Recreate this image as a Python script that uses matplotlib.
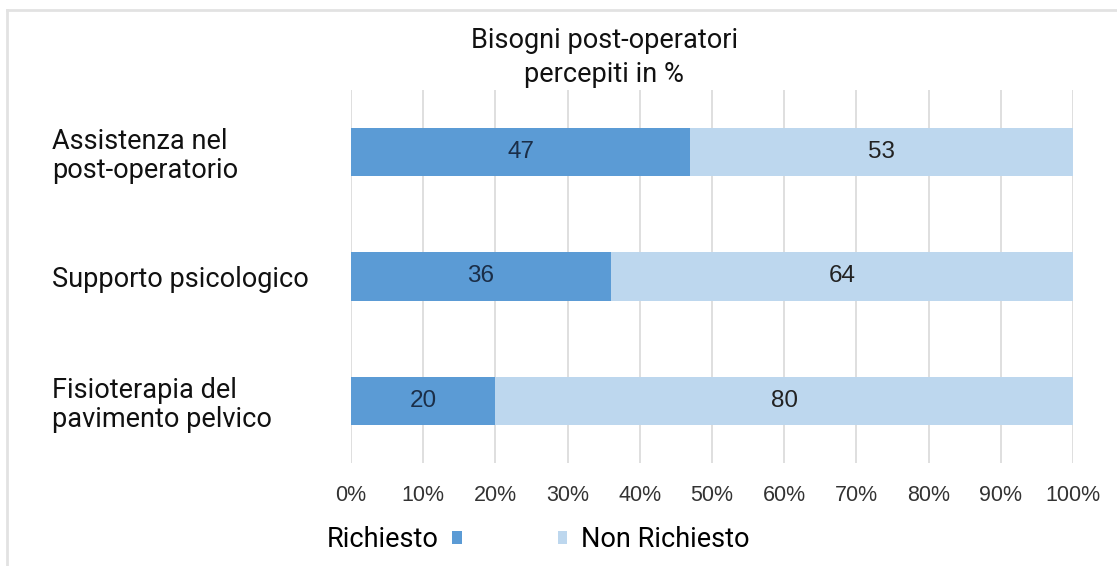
import matplotlib.pyplot as plt
from matplotlib.lines import Line2D
import numpy as np

# Post-operative needs, percentages per category
categories = ['Assistenza nel\npost-operatorio', 'Supporto psicologico',
              'Fisioterapia del\npavimento pelvico']
richiesto = [47, 36, 20]
non_richiesto = [53, 64, 80]
ticks = [0, 10, 20, 30, 40, 50, 60, 70, 80, 90, 100]

dark = '#5b9bd5'
light = '#bdd7ee'

fig = plt.figure(figsize=(11.17, 5.66), dpi=100)
ax = fig.add_axes([0.3142, 0.182, 0.6464, 0.659])

# Top category first
y = np.arange(len(categories))[::-1]
b1 = ax.barh(y, richiesto, height=0.39, color=dark, label='Richiesto', zorder=2)
b2 = ax.barh(y, non_richiesto, left=richiesto, height=0.39, color=light,
             label='Non Richiesto', zorder=2)

# Value labels in the middle of each segment
for yi, r, n in zip(y, richiesto, non_richiesto):
    ax.text(r / 2, yi, str(r), ha='center', va='center', fontsize=17.5,
            family='Liberation Sans', color='#1b2e48', zorder=3)
    ax.text(r + n / 2, yi, str(n), ha='center', va='center', fontsize=17.5,
            family='Liberation Sans', color='#222222', zorder=3)

ax.set_xlim(0, 100)
ax.set_ylim(-0.5, 2.5)
ax.set_xticks(ticks)
ax.set_xticklabels([f'{t}%' for t in ticks], family='Liberation Sans',
                   fontsize=15.5, color='#333333')
ax.tick_params(axis='x', length=0, pad=16)
ax.set_yticks(y)
ax.set_yticklabels(categories, family='Roboto', fontsize=19.5, ha='left',
                   color='#111111', linespacing=1.1)
ax.tick_params(axis='y', length=0, pad=215)
ax.grid(axis='x', color='#dcdcdc', linewidth=1.3, zorder=0)
for s in ax.spines.values():
    s.set_visible(False)

fig.text(0.541, 0.898, 'Bisogni post-operatori\npercepiti in %', ha='center',
         va='center', family='Roboto', fontsize=19.5, color='#111111',
         linespacing=1.35)

# Legend: label before the swatch for the first entry, after for the second
leg_kw = dict(frameon=False, handlelength=0.36, handleheight=0.36,
              handletextpad=0.5, borderpad=0,
              prop={'family': 'Roboto', 'size': 19.5})
fig.legend([b1], ['Richiesto'], loc='center', bbox_to_anchor=(0.353, 0.046),
           markerfirst=False, **leg_kw)
fig.legend([b2], ['Non Richiesto'], loc='center', bbox_to_anchor=(0.585, 0.046),
           **leg_kw)

# Thin frame along the top and left edges
fig.add_artist(Line2D([0.0063, 1], [0.982, 0.982], color='#e2e2e2',
                      linewidth=2, transform=fig.transFigure))
fig.add_artist(Line2D([0.0063, 0.0063], [0, 0.982], color='#e2e2e2',
                      linewidth=2, transform=fig.transFigure))

fig.savefig('out.png', dpi=100)
